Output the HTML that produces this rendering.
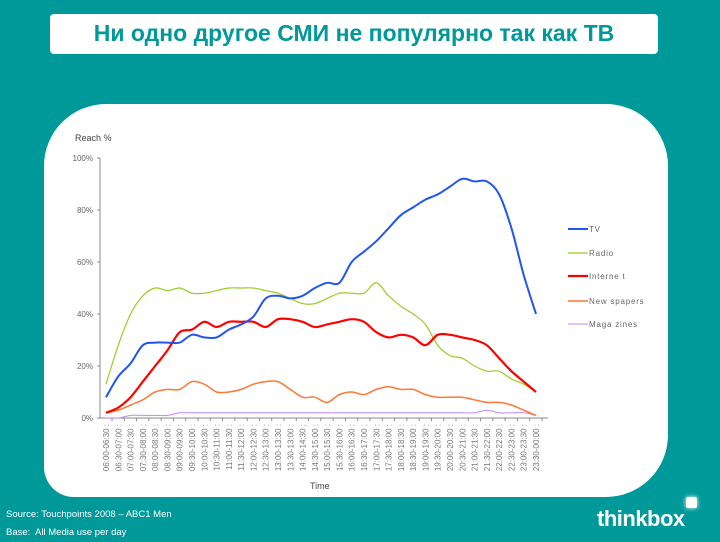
<!DOCTYPE html>
<html><head><meta charset="utf-8"><style>
body{margin:0;width:720px;height:542px;background:#009999;position:relative;overflow:hidden;font-family:"Liberation Sans",sans-serif}
#title{position:absolute;left:50px;top:14px;width:608px;height:40px;background:#fff;border-radius:4px;color:#009999;font-weight:bold;font-size:23px;text-align:center;line-height:38px}
#panel{position:absolute;left:44px;top:104px;width:624px;height:393px;background:#fff;border-radius:62px 62px 62px 30px}
svg{position:absolute;left:0;top:0}
.foot{position:absolute;left:6px;color:#fff;font-size:9.5px}
#logo{position:absolute;left:597px;top:506px;color:#fff;font-weight:bold;font-size:22px;letter-spacing:-0.5px}
#logosq{position:absolute;left:686px;top:497px;width:11px;height:11px;background:#fff;border-radius:2px;box-shadow:0 0 5px #fff}
</style></head><body>
<div id="title">Ни одно другое СМИ не популярно так как ТВ</div>
<div id="panel"></div>
<svg id="chart" width="720" height="542"></svg>
<div class="foot" style="top:509px">Source: Touchpoints 2008 – ABC1 Men</div>
<div class="foot" style="top:527px">Base:&nbsp; All Media use per day</div>
<div id="logo">thinkbox</div>
<div id="logosq"></div>
<script>
const categories=["06:00-06:30","06:30-07:00","07:00-07:30","07:30-08:00","08:00-08:30","08:30-09:00","09:00-09:30","09:30-10:00","10:00-10:30","10:30-11:00","11:00-11:30","11:30-12:00","12:00-12:30","12:30-13:00","13:00-13:30","13:30-13:00","14:00-14:30","14:30-15:00","15:00-15:30","15:30-16:00","16:00-16:30","16:30-17:00","17:00-17:30","17:30-18:00","18:00-18:30","18:30-19:00","19:00-19:30","19:30-20:00","20:00-20:30","20:30-21:00","21:00-21:30","21:30-22:00","22:00-22:30","22:30-23:00","23:00-23:30","23:30-00:00"];
const tv=[8,16,21,28,29,29,29,32,31,31,34,36,39,46,47,46,47,50,52,52,60,64,68,73,78,81,84,86,89,92,91,91,86,73,55,40];
const radio=[13,28,40,47,50,49,50,48,48,49,50,50,50,49,48,46,44,44,46,48,48,48,52,47,43,40,36,28,24,23,20,18,18,15,13,10];
const internet=[2,4,8,14,20,26,33,34,37,35,37,37,37,35,38,38,37,35,36,37,38,37,33,31,32,31,28,32,32,31,30,28,23,18,14,10];
const newspapers=[2,3,5,7,10,11,11,14,13,10,10,11,13,14,14,11,8,8,6,9,10,9,11,12,11,11,9,8,8,8,7,6,6,5,3,1];
const magazines=[0,0,1,1,1,1,2,2,2,2,2,2,2,2,2,2,2,2,2,2,2,2,2,2,2,2,2,2,2,2,2,3,2,2,2,1];
const yTicks=[0,20,40,60,80,100];
const seriesNames=["TV","Radio","Internet","Newspapers","Magazines"];
const legendLabels=["TV","Radio","Interne t","New spapers","Maga zines"];

const svg=document.getElementById('chart');const NS='http://www.w3.org/2000/svg';
const X0=106,X1=536,Y0=418,Y1=158;
const xs=i=>X0+i*(X1-X0)/(categories.length-1);
const ys=v=>Y0-(v/100)*(Y0-Y1);
function mk(t,a,txt){const e=document.createElementNS(NS,t);for(const k in a)e.setAttribute(k,a[k]);if(txt!==undefined)e.textContent=txt;svg.appendChild(e);return e;}
let e=mk('line',{x1:100,y1:Y0,x2:X1+12,y2:Y0,stroke:'#888','stroke-width':1});


e=mk('line',{x1:100,y1:Y0,x2:100,y2:Y1,stroke:'#888','stroke-width':1});


yTicks.forEach(t=>{
 e=mk('text',{x:93,y:ys(t)+3,'text-anchor':'end','font-size':8,fill:'#666'},t+'%');
 
 
 mk('line',{x1:97,y1:ys(t),x2:100,y2:ys(t),stroke:'#888'});
});
categories.forEach((c,i)=>{
 const x=xs(i);
 mk('line',{x1:x+6,y1:Y0,x2:x+6,y2:Y0+3,stroke:'#888'});
 e=mk('text',{transform:`translate(${x+3},${Y0+6}) rotate(-90)`,'text-anchor':'end','font-size':8,fill:'#777'},c+' :');
 
 
});
e=mk('text',{x:75,y:141,'font-size':9,fill:'#444'},'Reach %');


e=mk('text',{x:310,y:489,'font-size':9,fill:'#444'},'Time');


function path(d){const p=d.map((v,i)=>[xs(i),ys(v)]);let s=`M${p[0][0]},${p[0][1]}`;
 for(let i=0;i<p.length-1;i++){const a=p[i-1]||p[i],b=p[i],c=p[i+1],dd=p[i+2]||c;
 s+=` C${b[0]+(c[0]-a[0])/6},${b[1]+(c[1]-a[1])/6} ${c[0]-(dd[0]-b[0])/6},${c[1]-(dd[1]-b[1])/6} ${c[0]},${c[1]}`;}return s;}
const data=[tv,radio,internet,newspapers,magazines];
const colors=['#2255ee','#99cc22','#ff0000','#ff7733','#bb88ff'];
const widths=[2,1.2,2.2,1.5,1];
[4,3,1,2,0].forEach(k=>{
 e=mk('path',{d:path(data[k]),fill:'none',stroke:colors[k],'stroke-width':widths[k]});
 
 
});
const ly=[229,253,276,301,324];
seriesNames.forEach((n,k)=>{
 e=mk('line',{x1:568,y1:ly[k],x2:588,y2:ly[k],stroke:colors[k],'stroke-width':widths[k]});
 
 
 e=mk('text',{x:589,y:ly[k]+3,'font-size':8,fill:'#666','letter-spacing':'0.8'},legendLabels[k]);
 
 
});
</script>
</body></html>
